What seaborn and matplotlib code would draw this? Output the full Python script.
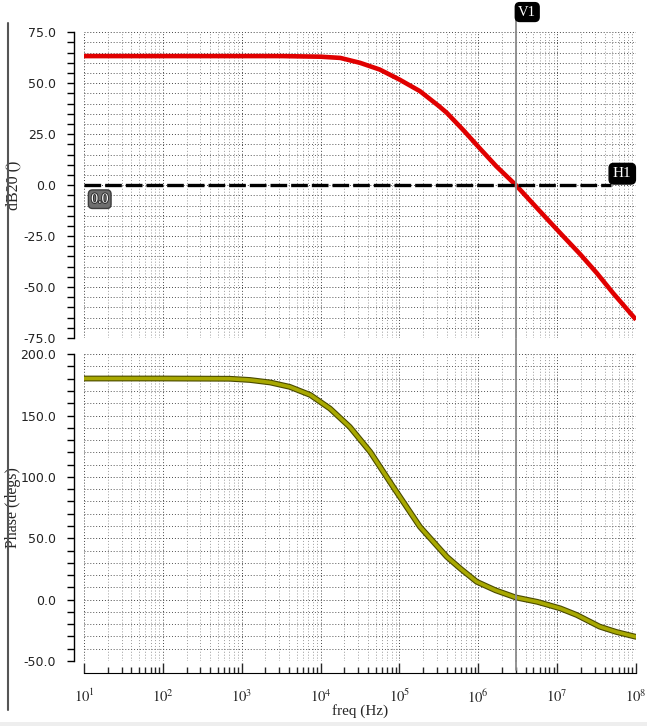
import pandas as pd
import matplotlib
matplotlib.use("Agg")
import matplotlib.pyplot as plt
import matplotlib.patheffects as pe
from matplotlib.ticker import MultipleLocator, LogLocator, NullFormatter, FormatStrFormatter
import seaborn as sns

# values (AC sweep)
mag_freq_hz = [10, 100, 1000, 3162, 1e4, 17783, 31623, 56234, 1e5, 181970,
               316228, 398107, 645654, 1.047e6, 1.698e6, 3.0e6, 4.571e6, 7.413e6,
               1.202e7, 1.950e7, 3.162e7, 5.129e7, 1e8]
mag_db = [63.3, 63.3, 63.3, 63.3, 63.0, 62.4, 60.0, 56.7, 51.8, 46.1,
          38.8, 35.5, 27.0, 18.0, 9.2, 0.0, -7.7, -16.5,
          -25.2, -33.8, -43.0, -53.0, -66.0]

phase_freq_hz = [10, 100, 708, 1274, 2291, 4074, 7413, 13183, 23442, 42658,
                 83176, 181970, 398107, 588844, 954993, 1.66e6, 2.951e6, 5.623e6,
                 1.096e7, 1.778e7, 3.467e7, 5.623e7, 1e8]
phase_deg = [180.2, 180.2, 180.0, 179.0, 177.0, 173.4, 166.8, 155.7, 140.8, 120.4,
             92.0, 59.4, 35.0, 25.5, 14.6, 7.6, 1.9, -1.8,
             -7.1, -12.5, -22.0, -26.3, -30.3]

v1_freq = 3.0e6
h1_level = 0.0
decade_labels = [r"$10^{%d}$" % d for d in range(1, 9)]

mag = pd.DataFrame({"freq": mag_freq_hz, "db": mag_db})
phase = pd.DataFrame({"freq": phase_freq_hz, "deg": phase_deg})

sns.set_style("white")
plt.rcParams["font.family"] = ["DejaVu Sans"]
plt.rcParams["mathtext.fontset"] = "stix"
serif = ["Liberation Serif", "DejaVu Serif"]

fig = plt.figure(figsize=(6.47, 7.26), dpi=100)
ax1 = fig.add_axes([0.1298, 0.5344, 0.8532, 0.4212])
ax2 = fig.add_axes([0.1298, 0.0895, 0.8532, 0.4226])

#traces
sns.lineplot(data=mag, x="freq", y="db", ax=ax1, color="#e00000", linewidth=3.3)
sns.lineplot(data=phase, x="freq", y="deg", ax=ax2, color="#a8a800", linewidth=2.6)
ax1.lines[0].set_solid_capstyle("butt")
ax2.lines[0].set_path_effects([pe.Stroke(linewidth=4.2, foreground="#4a4a00"), pe.Normal()])

for ax in (ax1, ax2):
    ax.set_xscale("log")
    ax.set_xlim(10, 1e8)
    ax.xaxis.set_major_locator(LogLocator(base=10, numticks=20))
    ax.xaxis.set_minor_locator(LogLocator(base=10, subs=range(2, 10), numticks=100))
    ax.xaxis.set_minor_formatter(NullFormatter())
    ax.grid(True, which="major", axis="both", linestyle=(0, (1, 2)), color="#444444", linewidth=0.7)
    ax.grid(True, which="minor", axis="y", linestyle=(0, (1, 2)), color="#555555", linewidth=0.7)
    ax.grid(True, which="minor", axis="x", linestyle=(0, (1, 2)), color="#9a9a9a", linewidth=0.7)
    ax.set_xlabel("")
    for s in ("top", "right"):
        ax.spines[s].set_visible(False)
    ax.spines["left"].set_position(("outward", 7))
    ax.spines["left"].set_color("black")
    ax.spines["left"].set_linewidth(1.0)
    ax.yaxis.set_major_formatter(FormatStrFormatter("%.1f"))
    ax.tick_params(axis="y", which="both", direction="out", length=5, width=1,
                   left=True, labelsize=9, pad=8, colors="black")
    ax.tick_params(axis="y", labelcolor="#222222")

# top plot: magnitude
ax1.set_ylim(-75, 75)
ax1.yaxis.set_major_locator(MultipleLocator(25))
ax1.yaxis.set_minor_locator(MultipleLocator(5))
ax1.spines["bottom"].set_visible(False)
ax1.tick_params(axis="x", which="both", bottom=False, labelbottom=False)
ax1.set_ylabel("dB20 ()", fontsize=11.5, family=serif)
ax1.yaxis.set_label_coords(-0.114, 0.5)

# bottom plot: phase
ax2.set_ylim(-50, 200)
ax2.yaxis.set_major_locator(MultipleLocator(50))
ax2.yaxis.set_minor_locator(MultipleLocator(10))
ax2.spines["bottom"].set_position(("outward", 8.5))
ax2.spines["bottom"].set_color("black")
ax2.tick_params(axis="x", which="major", direction="in", length=7, width=1, bottom=True, pad=11)
ax2.tick_params(axis="x", which="minor", direction="in", length=4, width=1, bottom=True)
ax2.set_xticks([10 ** d for d in range(1, 9)])
ax2.set_xticklabels(decade_labels, fontsize=10.5)
ax2.set_xlabel("freq (Hz)", fontsize=11, family=serif, labelpad=-1)
ax2.set_ylabel("Phase (degs)", fontsize=11.5, family=serif)
ax2.yaxis.set_label_coords(-0.114, 0.5)

# markers H1 / V1
ax1.axhline(h1_level, xmax=0.955, color="black", linewidth=2.4, linestyle=(0, (5, 1.2)))
for ax in (ax1, ax2):
    ax.axvline(v1_freq, color="#8a8a8a", linewidth=1.3, clip_on=False)
ax1.axvline(v1_freq, ymin=1.0, ymax=1.04, color="#8a8a8a", linewidth=1.3, clip_on=False)
ax2.axvline(v1_freq, ymin=1.0, ymax=1.05, color="#8a8a8a", linewidth=1.3, clip_on=False)
ax2.axvline(v1_freq, ymin=-0.028, ymax=0.0, color="#8a8a8a", linewidth=1.3, clip_on=False)

ax1.text(v1_freq * 1.07, 1.066, "V1", transform=ax1.get_xaxis_transform(), ha="left", va="center",
         color="white", fontsize=10.5, family=serif,
         bbox=dict(boxstyle="round,pad=0.2,rounding_size=0.3", fc="black", ec="black"))
ax1.text(0.992, h1_level + 5.6, "H1", transform=ax1.get_yaxis_transform(), ha="right", va="center",
         color="white", fontsize=11, family=serif,
         bbox=dict(boxstyle="round,pad=0.25,rounding_size=0.3", fc="black", ec="black"))
ax1.text(0.013, h1_level - 6.9, "0.0", transform=ax1.get_yaxis_transform(), ha="left", va="center",
         color="white", fontsize=10, family=serif,
         path_effects=[pe.withStroke(linewidth=1.5, foreground="#333333")],
         bbox=dict(boxstyle="round,pad=0.2,rounding_size=0.3", fc="#6e6e6e", ec="#3c3c3c"))

# window frame bits
fig.add_artist(plt.Line2D([0.0124, 0.0124], [0.022, 0.968], color="#555555", linewidth=1.5))
fig.add_artist(plt.Rectangle((0, 0), 1, 0.006, color="#eeeeee", linewidth=0, zorder=-1))

fig.savefig("out.png", dpi=100)
